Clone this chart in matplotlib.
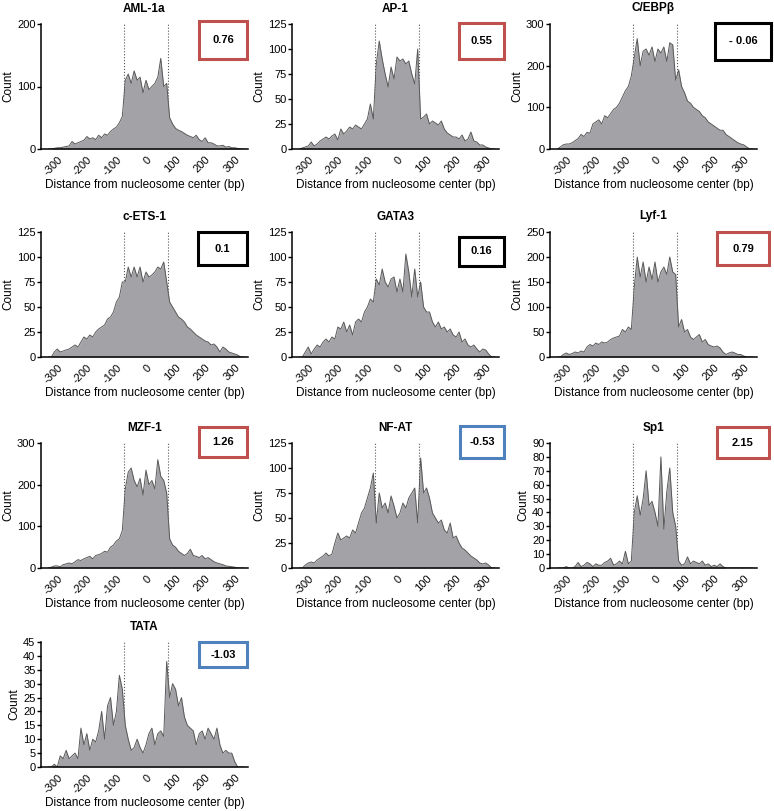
import matplotlib
matplotlib.use('Agg')
import matplotlib.pyplot as plt
import numpy as np
from matplotlib.patches import Rectangle

plt.rcParams['font.family'] = ['Liberation Sans', 'DejaVu Sans']

# bin centres, -330 .. 330 bp
pos = np.arange(-330, 331, 10)

names = ['AML-1a', 'AP-1', 'C/EBPβ', 'c-ETS-1', 'GATA3', 'Lyf-1',
         'MZF-1', 'NF-AT', 'Sp1', 'TATA']
scores = ['0.76', '0.55', '- 0.06', '0.1', '0.16', '0.79',
          '1.26', '-0.53', '2.15', '-1.03']
score_colors = ['#c0504d', '#c0504d', 'black', 'black', 'black', '#c0504d',
                '#c0504d', '#4f81bd', '#c0504d', '#4f81bd']
ymax = [200, 125, 300, 125, 125, 250, 300, 125, 90, 45]
ystep = [100, 25, 100, 25, 25, 50, 100, 25, 10, 5]

aml = [0, 0, 1, 2, 2, 3, 4, 5, 12, 8,
       10, 12, 14, 20, 16, 18, 15, 22, 18, 24,
       22, 28, 32, 35, 42, 52, 110, 120, 105, 125,
       110, 115, 90, 110, 95, 100, 105, 115, 145, 100,
       105, 50, 40, 33, 30, 28, 25, 22, 20, 18,
       22, 15, 12, 18, 10, 10, 8, 5, 5, 6,
       3, 4, 2, 2, 1, 0, 0]
ap1 = [0, 1, 2, 3, 7, 3, 5, 8, 10, 12,
       10, 13, 15, 9, 20, 15, 18, 22, 20, 24,
       22, 20, 25, 30, 45, 30, 85, 108, 90, 75,
       62, 82, 70, 92, 88, 90, 85, 88, 75, 65,
       100, 30, 32, 35, 25, 28, 26, 24, 28, 20,
       16, 14, 12, 12, 10, 14, 8, 10, 17, 8,
       7, 4, 4, 2, 1, 0, 0]
cebpb = [0, 5, 10, 12, 12, 15, 20, 25, 35, 30,
         40, 38, 60, 65, 70, 60, 80, 75, 85, 95,
         100, 110, 125, 140, 150, 175, 220, 265, 200, 235,
         240, 225, 245, 210, 240, 230, 245, 210, 255, 250,
         165, 190, 150, 135, 115, 110, 100, 95, 90, 80,
         75, 65, 60, 55, 50, 45, 45, 35, 30, 25,
         20, 15, 12, 10, 5, 0, 0]
cets1 = [0, 0, 5, 8, 5, 6, 7, 8, 10, 12,
         10, 15, 20, 18, 22, 20, 25, 28, 30, 32,
         38, 40, 45, 55, 60, 75, 75, 90, 80, 90,
         80, 90, 75, 85, 80, 82, 85, 90, 88, 95,
         75, 55, 50, 45, 40, 38, 35, 30, 28, 25,
         22, 20, 18, 16, 15, 12, 13, 10, 5, 10,
         8, 5, 4, 3, 2, 0, 0]
gata3 = [0, 0, 5, 10, 3, 8, 12, 10, 15, 18,
         15, 20, 18, 30, 28, 35, 25, 32, 22, 35,
         38, 35, 45, 50, 58, 55, 78, 72, 88, 75,
         70, 78, 80, 65, 78, 65, 103, 85, 60, 88,
         60, 75, 50, 45, 45, 35, 30, 35, 28, 30,
         25, 28, 22, 20, 25, 15, 18, 12, 10, 12,
         8, 5, 8, 7, 3, 0, 0]
lyf1 = [0, 0, 5, 8, 5, 7, 10, 8, 12, 10,
        20, 25, 22, 28, 25, 30, 28, 30, 35, 38,
        40, 42, 55, 50, 60, 55, 140, 200, 160, 190,
        150, 180, 155, 190, 150, 170, 180, 165, 200, 170,
        165, 60, 75, 50, 55, 40, 35, 40, 45, 30,
        35, 25, 22, 20, 22, 18, 10, 5, 8, 10,
        8, 5, 5, 2, 0, 0, 0]
mzf1 = [0, 2, 5, 5, 3, 8, 10, 12, 10, 15,
        20, 18, 22, 25, 28, 22, 30, 32, 35, 40,
        38, 50, 55, 65, 70, 90, 190, 230, 240, 210,
        195, 215, 175, 235, 200, 210, 190, 260, 220, 210,
        180, 70, 55, 50, 40, 35, 30, 35, 45, 30,
        28, 25, 30, 22, 25, 20, 15, 12, 10, 8,
        5, 4, 3, 2, 0, 0, 0]
nfat = [0, 0, 3, 5, 6, 5, 8, 10, 12, 15,
        12, 14, 25, 35, 28, 30, 32, 30, 38, 35,
        45, 55, 60, 70, 80, 95, 45, 75, 60, 65,
        55, 72, 62, 50, 55, 65, 60, 70, 75, 80,
        45, 110, 75, 80, 70, 55, 50, 45, 48, 38,
        35, 45, 30, 32, 25, 20, 18, 15, 12, 10,
        8, 5, 4, 5, 3, 0, 0]
sp1 = [0, 0, 0, 1, 0, 0, 1, 4, 1, 2,
       4, 3, 1, 3, 2, 2, 4, 5, 7, 2,
       3, 5, 3, 12, 3, 5, 40, 52, 38, 50,
       70, 45, 48, 40, 30, 80, 28, 55, 72, 40,
       30, 5, 2, 3, 8, 3, 5, 4, 3, 5,
       2, 3, 1, 2, 1, 3, 1, 0, 0, 0,
       0, 0, 0, 0, 0, 0, 0]
tata = [0, 0, 1, 0, 4, 3, 6, 3, 4, 5,
        3, 14, 8, 12, 6, 10, 9, 13, 20, 10,
        22, 25, 15, 20, 33, 28, 15, 10, 6, 7,
        10, 7, 5, 8, 12, 14, 8, 12, 13, 11,
        38, 25, 30, 28, 22, 25, 18, 15, 14, 13,
        8, 12, 13, 10, 14, 12, 10, 14, 8, 5,
        6, 5, 5, 2, 0, 0, 0]
counts = [aml, ap1, cebpb, cets1, gata3, lyf1, mzf1, nfat, sp1, tata]

W, H = 774, 811
fig = plt.figure(figsize=(W / 100, H / 100), dpi=100)

lefts = [41, 292, 550]
tops = [24, 232, 443, 642]
heights = [125, 125, 125, 125]
aw = 207
# score boxes in pixels (x0, y0, x1, y1), measured from top left
boxes = [(199, 21, 247, 59), (459, 23, 504, 59), (715, 23, 771, 60),
         (198, 232, 247, 265), (459, 237, 504, 266), (717, 232, 769, 265),
         (199, 427, 247, 457), (460, 426, 504, 458), (717, 427, 769, 458),
         (199, 642, 247, 667)]

for i in range(10):
    r, c = divmod(i, 3)
    ah = heights[r]
    ax = fig.add_axes([lefts[c] / W, 1 - (tops[r] + ah) / H, aw / W, ah / H])
    y = np.array(counts[i])
    ax.axvline(-73, color='#555555', ls=':', lw=0.8, zorder=0)
    ax.axvline(73, color='#555555', ls=':', lw=0.8, zorder=0)
    ax.fill_between(pos, y, color='#a3a3a7', lw=0, zorder=1)
    ax.plot(pos, y, color='#595959', lw=0.7, zorder=2)
    ax.set_xlim(-355, 345)
    ax.set_ylim(0, ymax[i])
    ax.set_yticks(np.arange(0, ymax[i] + 1, ystep[i]))
    ax.set_xticks(np.arange(-300, 301, 100))
    ax.set_xticklabels([str(v) for v in range(-300, 301, 100)], rotation=45,
                       ha='right', rotation_mode='anchor')
    for s in ['top', 'right']:
        ax.spines[s].set_visible(False)
    for s in ['left', 'bottom']:
        ax.spines[s].set_linewidth(1.1)
    ax.tick_params(axis='y', length=3, width=1, labelsize=8, pad=1)
    ax.tick_params(axis='x', length=0, labelsize=8, pad=4)
    ax.set_title(names[i], fontsize=8.5, fontweight='bold', pad=9)
    ax.set_ylabel('Count', fontsize=8.5, labelpad=2)
    ax.set_xlabel('Distance from nucleosome center (bp)', fontsize=8.5, labelpad=1)

    x0, y0, x1, y1 = boxes[i]
    rect = Rectangle((x0 / W, 1 - y1 / H), (x1 - x0) / W, (y1 - y0) / H,
                     transform=fig.transFigure, fill=False,
                     edgecolor=score_colors[i], lw=2.2)
    fig.add_artist(rect)
    fig.text((x0 + x1) / 2 / W, 1 - (y0 + y1) / 2 / H, scores[i],
             ha='center', va='center', fontsize=8, fontweight='bold')

fig.savefig('out.png', dpi=100)
